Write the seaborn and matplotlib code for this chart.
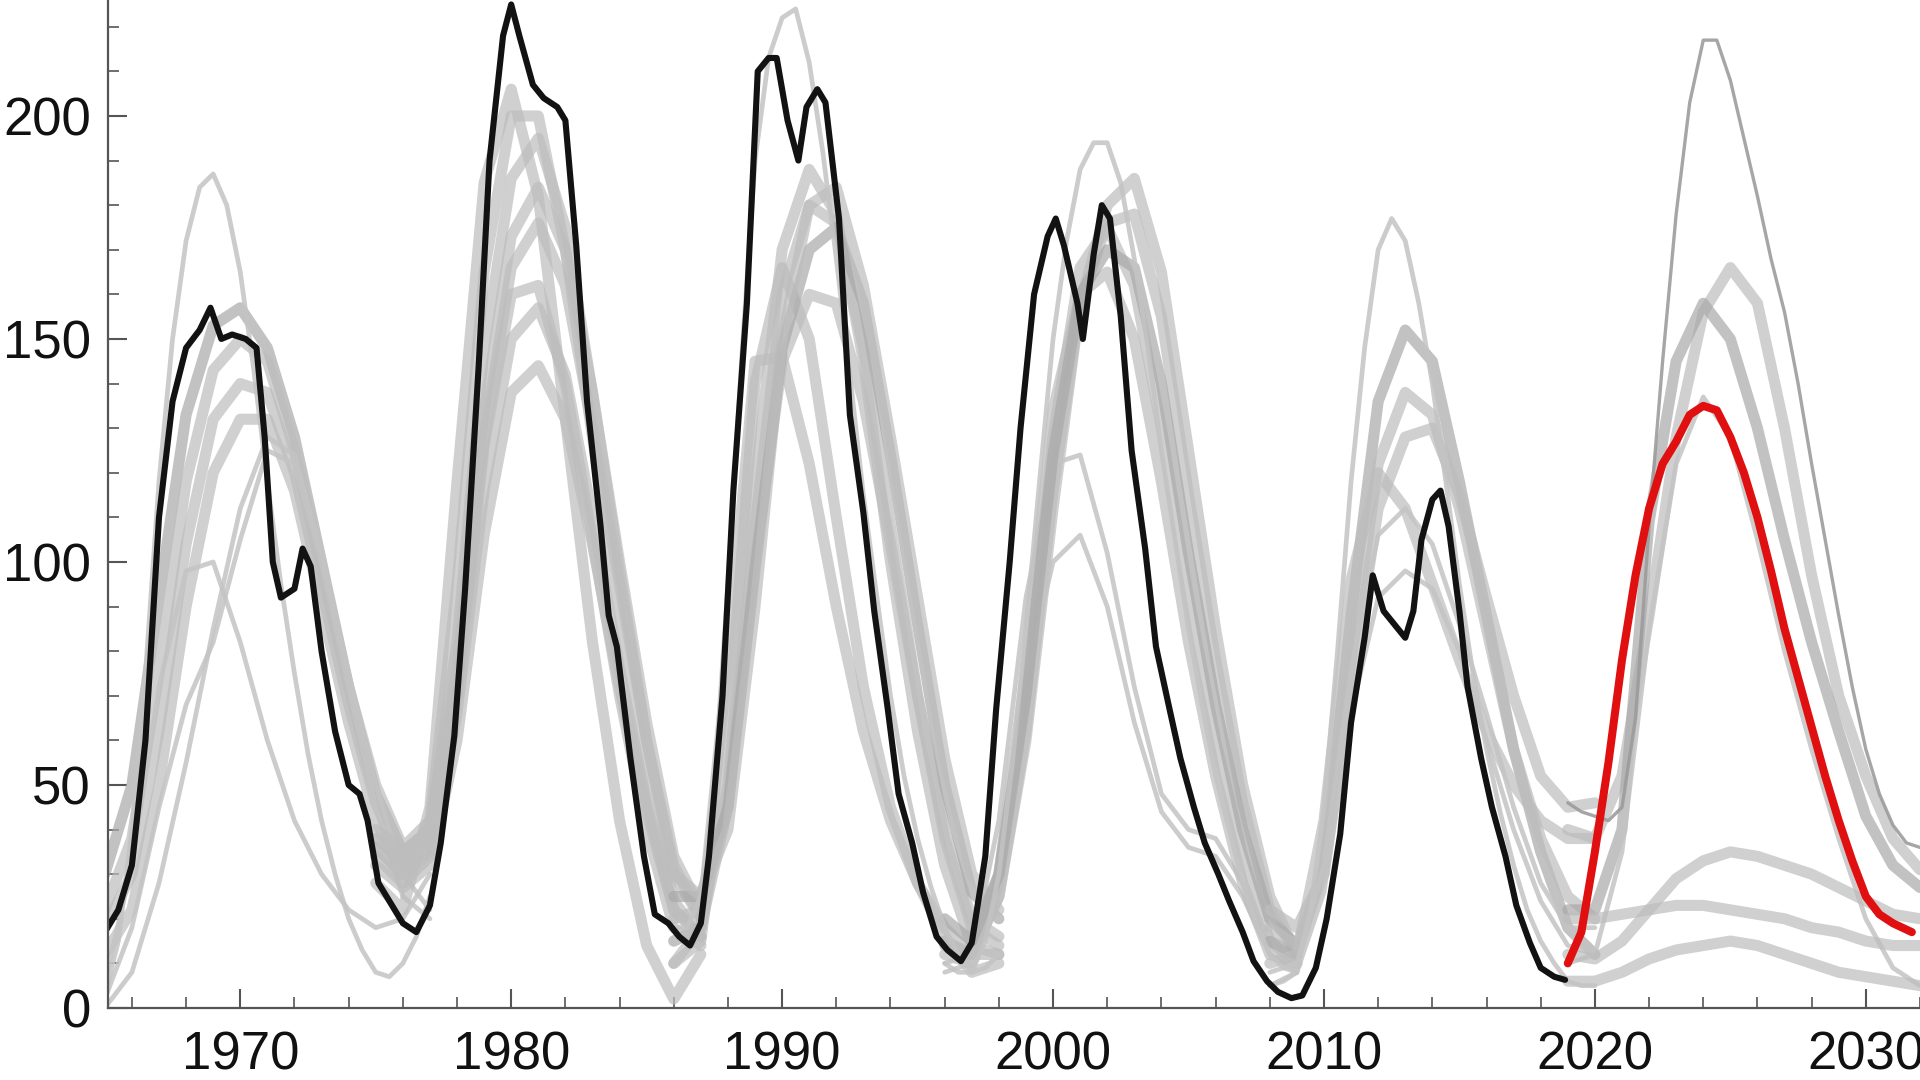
import numpy as np
import pandas as pd
import matplotlib
matplotlib.use("Agg")
import matplotlib.pyplot as plt
import seaborn as sns
from matplotlib.ticker import MultipleLocator

# ------------------------------------------------
# observed smoothed sunspot number (read from picture)
# ------------------------------------------------
obs_year = [1965.0, 1965.5, 1966.0, 1966.5, 1967.0, 1967.5, 1968.0, 1968.5, 1968.9, 1969.3,
            1969.7, 1970.2, 1970.6, 1970.9, 1971.2, 1971.5, 1972.0, 1972.3, 1972.6, 1973.0,
            1973.5, 1974.0, 1974.4, 1974.7, 1975.1, 1975.6, 1976.0, 1976.5, 1977.0, 1977.4,
            1977.9, 1978.3, 1978.8, 1979.2, 1979.7, 1980.0, 1980.3, 1980.8, 1981.2, 1981.7,
            1982.0, 1982.4, 1982.8, 1983.3, 1983.6, 1983.9, 1984.4, 1984.9, 1985.3, 1985.8,
            1986.2, 1986.6, 1987.0, 1987.3, 1987.8, 1988.2, 1988.7, 1989.1, 1989.5, 1989.8,
            1990.2, 1990.6, 1990.9, 1991.3, 1991.6, 1992.1, 1992.5, 1993.0, 1993.4, 1993.9,
            1994.3, 1994.8, 1995.2, 1995.7, 1996.1, 1996.6, 1997.0, 1997.5, 1997.9, 1998.4,
            1998.8, 1999.3, 1999.8, 2000.1, 2000.4, 2000.9, 2001.1, 2001.5, 2001.8, 2002.1,
            2002.5, 2002.9, 2003.4, 2003.8, 2004.3, 2004.7, 2005.2, 2005.6, 2006.1, 2006.5,
            2007.0, 2007.4, 2007.9, 2008.3, 2008.8, 2009.2, 2009.7, 2010.1, 2010.6, 2011.0,
            2011.5, 2011.8, 2012.2, 2012.6, 2013.0, 2013.3, 2013.6, 2014.0, 2014.3, 2014.6,
            2015.0, 2015.3, 2015.8, 2016.2, 2016.7, 2017.1, 2017.6, 2018.0, 2018.5, 2018.9]
obs_ssn = [17, 22, 32, 60, 110, 136, 148, 152, 157, 150,
           151, 150, 148, 128, 100, 92, 94, 103, 99, 80,
           62, 50, 48, 42, 28, 23, 19, 17, 23, 37,
           61, 94, 144, 190, 218, 225, 218, 207, 204, 202,
           199, 171, 136, 108, 88, 81, 56, 34, 21, 19,
           16, 14, 19, 34, 70, 116, 158, 210, 213, 213,
           199, 190, 202, 206, 203, 177, 133, 111, 89, 67,
           48, 37, 26, 16, 13, 10.5, 14.6, 34, 67, 100,
           130, 160, 173, 177, 171, 158, 150, 169, 180, 177,
           155, 125, 103, 81, 67, 56, 45, 37, 30, 24,
           17, 10.5, 6, 3.6, 2.2, 2.8, 9, 20, 39, 64,
           83, 97, 89, 86, 83, 89, 105, 114, 116, 108,
           89, 72, 56, 45, 34, 23, 14.6, 9, 7, 6.3]

# ------------------------------------------------
# prediction for cycle 25 (red)
# ------------------------------------------------
pred_year = [2019.0, 2019.5, 2020.0, 2020.5, 2021.0, 2021.5, 2022.0, 2022.5, 2023.0, 2023.5,
             2024.0, 2024.5, 2025.0, 2025.5, 2026.0, 2026.5, 2027.0, 2027.5, 2028.0, 2028.5,
             2029.0, 2029.5, 2030.0, 2030.5, 2031.0, 2031.7]
pred_ssn = [10, 17, 35, 55, 78, 97, 112, 122, 127, 133,
            135, 134, 128, 120, 110, 98, 85, 74, 63, 52,
            42, 33, 25, 21, 19, 17]

# ------------------------------------------------
# older forecasts, one yearly grid per cycle
# ------------------------------------------------
c20_year = list(range(1965, 1978))
c20_fc = [
    [30, 50, 92, 133, 153, 157, 148, 128, 100, 72, 48, 35, 40],
    [22, 38, 75, 118, 143, 150, 145, 125, 98, 72, 50, 36, 42],
    [18, 30, 62, 104, 132, 140, 138, 120, 94, 68, 46, 32, 38],
    [12, 22, 50, 90, 120, 132, 132, 116, 90, 64, 42, 30, 35],
    [6, 32, 72, 98, 100, 82, 60, 42, 30, 22, 18, 20, 30],
    [2, 18, 45, 68, 82, 105, 125, 122, 100, 72, 45, 25, 20],
    [0, 8, 28, 55, 85, 112, 128, 124, 102, 75, 50, 30, 22],
]

c21_year = list(range(1975, 1988))
c21_fc = [
    [28, 22, 45, 118, 185, 206, 182, 132, 82, 42, 14, 2, 12],
    [36, 30, 42, 95, 165, 200, 200, 170, 128, 88, 52, 24, 16],
    [38, 33, 40, 82, 148, 186, 195, 175, 138, 98, 60, 30, 20],
    [40, 35, 40, 76, 134, 173, 184, 170, 138, 100, 64, 34, 22],
    [38, 33, 38, 72, 128, 166, 176, 162, 130, 95, 60, 32, 20],
    [36, 30, 36, 70, 126, 160, 162, 140, 105, 70, 40, 18, 14],
    [34, 28, 34, 66, 116, 150, 157, 142, 110, 76, 46, 22, 16],
    [32, 27, 32, 60, 106, 138, 144, 132, 104, 72, 44, 22, 16],
]

c22_year = list(range(1986, 1999))
c22_fc = [
    [15, 18, 50, 118, 170, 188, 178, 145, 100, 62, 32, 14, 12],
    [15, 18, 45, 108, 160, 180, 176, 148, 108, 70, 38, 18, 14],
    [10, 15, 62, 140, 166, 150, 110, 72, 45, 28, 16, 8, 10],
    [20, 22, 45, 100, 145, 160, 158, 136, 104, 70, 40, 20, 16],
    [10, 18, 78, 145, 146, 122, 90, 62, 42, 28, 18, 12, 12],
    [25, 25, 45, 98, 148, 170, 175, 158, 124, 86, 50, 26, 20],
    [30, 25, 40, 90, 150, 180, 184, 162, 128, 92, 56, 30, 22],
]

c23_year = list(range(1996, 2010))
c23_fc = [
    [15, 12, 25, 60, 112, 158, 180, 186, 165, 125, 85, 50, 25, 12],
    [15, 12, 25, 62, 116, 158, 176, 178, 155, 115, 78, 46, 22, 12],
    [12, 10, 28, 70, 128, 166, 175, 162, 130, 92, 60, 34, 15, 10],
    [10, 12, 42, 92, 122, 124, 102, 72, 48, 40, 38, 28, 12, 8],
    [8, 10, 32, 74, 100, 106, 90, 64, 44, 36, 34, 25, 12, 8],
    [14, 12, 30, 76, 134, 160, 165, 150, 118, 82, 52, 28, 12, 10],
    [20, 15, 30, 70, 124, 160, 170, 166, 140, 102, 68, 40, 20, 14],
]

c24_year = list(range(2008, 2021))
c24_fc = [
    [15, 12, 32, 88, 136, 152, 145, 118, 88, 58, 35, 18, 12],
    [18, 14, 30, 78, 122, 138, 133, 112, 85, 58, 38, 25, 20],
    [22, 18, 30, 72, 112, 128, 130, 115, 92, 70, 52, 45, 46],
    [10, 12, 42, 96, 120, 112, 95, 78, 62, 50, 42, 38, 38],
    [8, 10, 32, 76, 106, 112, 104, 86, 66, 45, 28, 18, 18],
    [5, 8, 26, 66, 92, 98, 94, 80, 60, 40, 24, 14, 12],
]

c25_year = list(range(2019, 2033))
c25_fc = [
    [40, 38, 52, 88, 128, 156, 166, 158, 130, 97, 70, 52, 38, 31],
    [22, 22, 40, 109, 145, 158, 150, 130, 105, 82, 62, 43, 32, 27],
    [10, 12, 35, 85, 122, 137, 128, 105, 80, 58, 38, 20, 9, 5],
    [12, 11, 15, 22, 29, 33, 35, 34, 32, 30, 27, 24, 21, 20],
    [20, 20, 21, 22, 23, 23, 22, 21, 20, 18, 17, 15, 14, 14],
    [6, 6, 8, 11, 13, 14, 15, 14, 12, 10, 8, 7, 6, 5],
]

# the sharp, thin forecasts, read every half year
t20_year = [1965 + 0.5 * i for i in range(25)]
t20_ssn = [3, 15, 40, 75, 118, 150, 172, 184, 187, 180, 165, 143, 118,
           95, 75, 57, 42, 30, 20, 13, 8, 7, 10, 16, 25]
t22_year = [1986 + 0.5 * i for i in range(25)]
t22_ssn = [18, 18, 25, 50, 95, 145, 190, 213, 222, 224, 212, 192, 168,
           142, 115, 92, 70, 52, 38, 27, 18, 12, 8, 9, 12]
t23_year = [1996 + 0.5 * i for i in range(27)]
t23_ssn = [10, 8, 8, 15, 30, 55, 85, 118, 150, 172, 188, 194, 194, 185,
           168, 148, 125, 105, 85, 68, 52, 40, 28, 19, 12, 9, 8]
t24_year = [2008 + 0.5 * i for i in range(25)]
t24_ssn = [5, 6, 8, 22, 45, 80, 118, 148, 170, 177, 172, 158, 140,
           118, 95, 75, 58, 44, 32, 22, 15, 10, 6, 5, 5]
t25_year = [2019 + 0.5 * i for i in range(27)]
t25_ssn = [46, 44, 43, 42, 45, 65, 108, 145, 178, 203, 217, 217, 208, 195,
           182, 168, 156, 140, 122, 105, 88, 72, 58, 48, 41, 37, 36]

# styles of the forecast curves (width, colour, alpha), same order as above
THICK = (8.0, "#bdbdbd", 0.7)
THIN = (3.4, "#c4c4c4", 0.85)
MID = (8.0, "#a9a9a9", 0.7)
DARKTHIN = (2.4, "#9c9c9c", 0.9)
c20_style = [MID, THICK, THICK, THICK, THIN, THIN, THIN]
c21_style = [THICK, THICK, THICK, THICK, THICK, THICK, THICK, THICK]
c22_style = [THICK, THICK, THICK, THICK, THICK, MID, THICK]
c23_style = [THICK, THICK, THICK, THIN, THIN, THICK, MID]
c24_style = [MID, THICK, THICK, THICK, THIN, THIN]
c25_style = [THICK, MID, THIN, THICK, THICK, THICK]

sns.set_theme(style="ticks")
plt.rcParams["font.family"] = ["Liberation Sans", "DejaVu Sans"]

fig = plt.figure(figsize=(19.2, 10.8), dpi=100)
ax = fig.add_axes([0.056, 0.0667, 0.944, 0.9333])

cycles = [(c20_year, c20_fc, c20_style), (c21_year, c21_fc, c21_style),
          (c22_year, c22_fc, c22_style), (c23_year, c23_fc, c23_style),
          (c24_year, c24_fc, c24_style), (c25_year, c25_fc, c25_style)]

for years, curves, styles in cycles:
    for vals, (lw, col, a) in zip(curves, styles):
        sns.lineplot(x=years, y=vals, ax=ax, color=col, linewidth=lw, alpha=a,
                     solid_joinstyle="round", solid_capstyle="round")

thin = [(t20_year, t20_ssn, THIN), (t22_year, t22_ssn, THIN), (t23_year, t23_ssn, THIN),
        (t24_year, t24_ssn, THIN), (t25_year, t25_ssn, DARKTHIN)]
for years, vals, (lw, col, a) in thin:
    sns.lineplot(x=years, y=vals, ax=ax, color=col, linewidth=lw, alpha=a,
                 solid_joinstyle="round", solid_capstyle="round")

# observed record
sns.lineplot(x=obs_year, y=obs_ssn, ax=ax, color="#121212", linewidth=4.4,
             solid_joinstyle="round")

# predicted cycle 25
sns.lineplot(x=pred_year, y=pred_ssn, ax=ax, color="#e01010", linewidth=5.8,
             solid_joinstyle="round", solid_capstyle="round")

ax.set_xlim(1965.1, 2032.0)
ax.set_ylim(0, 226)
ax.set_xlabel("")
ax.set_ylabel("")

sns.despine(ax=ax)
for s in ["left", "bottom"]:
    ax.spines[s].set_color("#555555")
    ax.spines[s].set_linewidth(1.6)

ax.xaxis.set_major_locator(MultipleLocator(10))
ax.xaxis.set_minor_locator(MultipleLocator(2))
ax.yaxis.set_major_locator(MultipleLocator(50))
ax.yaxis.set_minor_locator(MultipleLocator(10))
ax.tick_params(which="both", direction="in", colors="#555555", labelcolor="#111111",
               labelsize=38)
ax.tick_params(which="major", length=14, width=1.5)
ax.tick_params(which="minor", length=8, width=1.2)
ax.tick_params(axis="x", which="major", pad=16)
ax.tick_params(axis="y", which="major", pad=12)

fig.savefig("out.png", dpi=100)
